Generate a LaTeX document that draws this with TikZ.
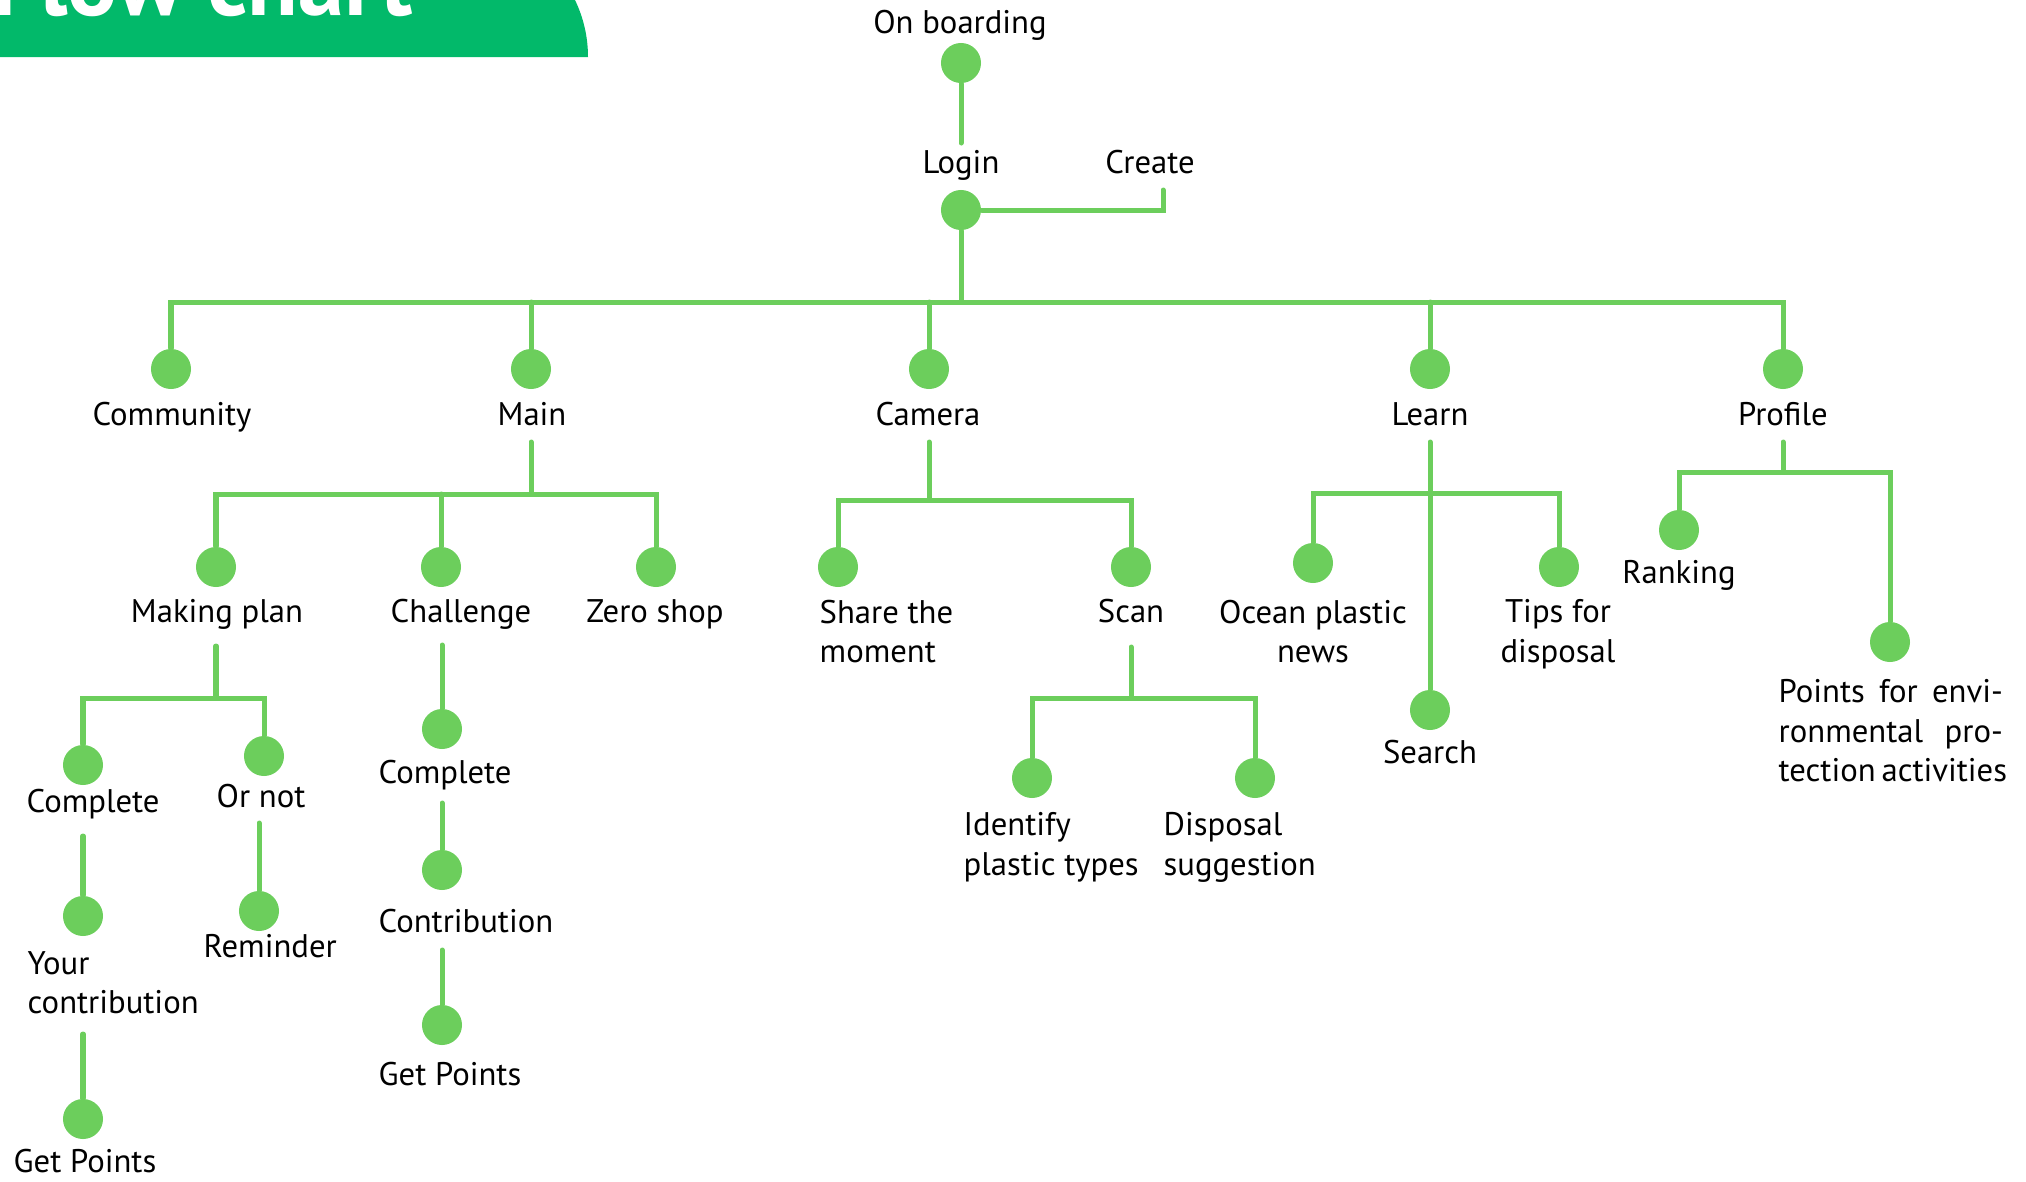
\documentclass[tikz,border=0pt]{standalone}
\usepackage{fontspec}
\setmainfont{PT Sans}
\definecolor{leaf}{HTML}{6CCE5C}
\definecolor{band}{HTML}{02B96A}

\begin{document}
\begin{tikzpicture}[x=0.01cm,y=-0.01cm,
  every node/.style={font=\fontsize{9.3pt}{11.2pt}\selectfont,inner sep=0pt},
  dot/.style={circle,fill=leaf,minimum size=0.4cm},
  lbl/.style={anchor=base},
  lbll/.style={anchor=base west},
  wire/.style={draw=leaf,line width=0.05cm,line cap=round}]

\useasboundingbox (0,0) rectangle (2026,1181);

% bandeau du titre
\fill[band] (-10,57) -- (588,57) arc[start angle=0,end angle=-90,radius=131] -- (-10,-74) -- cycle;
\node[anchor=base west,text=white,font=\fontsize{26.5pt}{26.5pt}\selectfont\bfseries] (title) at (-8,15) {Flow chart};

% points
\node[dot] (cBoard) at (961,63) {};
\node[dot] (cLogin) at (961,210) {};
\node[dot] (cComm) at (171,369) {};
\node[dot] (cMain) at (531,369) {};
\node[dot] (cCam) at (929,369) {};
\node[dot] (cLearn) at (1430,369) {};
\node[dot] (cProf) at (1783,369) {};
\node[dot] (cPlan) at (216,567) {};
\node[dot] (cChal) at (441,567) {};
\node[dot] (cZero) at (656,567) {};
\node[dot] (cShare) at (838,567) {};
\node[dot] (cScan) at (1131,567) {};
\node[dot] (cOcean) at (1313,563) {};
\node[dot] (cTips) at (1559,567) {};
\node[dot] (cSearch) at (1430,710) {};
\node[dot] (cRank) at (1679,530) {};
\node[dot] (cPoints) at (1890,642) {};
\node[dot] (cDone) at (83,765) {};
\node[dot] (cOrNot) at (264,756) {};
\node[dot] (cYours) at (83,916) {};
\node[dot] (cGetA) at (83,1119) {};
\node[dot] (cRemind) at (259,911) {};
\node[dot] (cChalDone) at (442,729) {};
\node[dot] (cContrib) at (442,870) {};
\node[dot] (cGetB) at (442,1025) {};
\node[dot] (cIdent) at (1032,778) {};
\node[dot] (cDisp) at (1255,778) {};

% textes
\node[lbl] (lBoard) at (960,33) {On boarding};
\node[lbl] (lLogin) at (961,173) {Login};
\node[lbl] (lCreate) at (1150,173) {Create};
\node[lbl] (lComm) at (172,425) {Community};
\node[lbl] (lMain) at (532,425) {Main};
\node[lbl] (lCam) at (928,425) {Camera};
\node[lbl] (lLearn) at (1430,425) {Learn};
\node[lbl] (lProf) at (1783,425) {Profile};
\node[lbl] (lPlan) at (217,622) {Making plan};
\node[lbl] (lChal) at (461,622) {Challenge};
\node[lbl] (lZero) at (655,622) {Zero shop};
\node[anchor=north west,align=left] (lShare) at (819,599) {Share the\\moment};
\node[lbl] (lScan) at (1131,622) {Scan};
\node[anchor=north,align=center] (lOcean) at (1313,599) {Ocean plastic\\news};
\node[anchor=north,align=center] (lTips) at (1558,599) {Tips for\\disposal};
\node[lbl] (lSearch) at (1430,763) {Search};
\node[lbl] (lRank) at (1679,583) {Ranking};
\node[anchor=north west,align=left] (lPoints) at (1778,679)
  {\makebox[2.24cm][s]{Points for envi-}\\\makebox[2.24cm][s]{ronmental pro-}\\\makebox[2.24cm][s]{tection activities}};
\node[lbll] (lDone) at (26,812) {Complete};
\node[lbll] (lOrNot) at (216,807) {Or not};
\node[anchor=north west,align=left] (lYours) at (27,951) {Your\\contribution};
\node[lbll] (lGetA) at (13,1172) {Get Points};
\node[lbll] (lRemind) at (203,957) {Reminder};
\node[lbll] (lChalDone) at (378,783) {Complete};
\node[lbll] (lContrib) at (378,932) {Contribution};
\node[lbll] (lGetB) at (378,1085) {Get Points};
\node[anchor=north west,align=left] (lIdent) at (963,812) {Identify\\plastic types};
\node[anchor=north west,align=left] (lDisp) at (1163,812) {Disposal\\suggestion};

% bouts de traits sous les textes
\coordinate (bLogin) at (961,143);
\coordinate (tCreate) at (1163,190);
\coordinate (jTop) at (961,302);
\coordinate (tMain) at (531,442);
\coordinate (jMain) at (531,494);
\coordinate (tCam) at (929,442);
\coordinate (jCam) at (929,500);
\coordinate (tLearn) at (1430,442);
\coordinate (jLearn) at (1430,493);
\coordinate (tProf) at (1783,442);
\coordinate (jProf) at (1783,472);
\coordinate (tPlan) at (216,646);
\coordinate (jPlan) at (216,698);
\coordinate (tScan) at (1131,647);
\coordinate (jScan) at (1131,698);
\coordinate (tDone) at (83,836);
\coordinate (tYours) at (83,1034);
\coordinate (tOrNot) at (259,823);
\coordinate (tChal) at (442,645);
\coordinate (tChalDone) at (442,803);
\coordinate (tContrib) at (442,950);

% traits
\draw[wire] (cBoard)--(bLogin);
\draw[wire] (cLogin)-|(tCreate);
\draw[wire] (cLogin)--(jTop);
\draw[wire] (cComm)|-(jTop)-|(cProf);
\draw[wire] (cMain)--(cMain|-jTop);
\draw[wire] (cCam)--(cCam|-jTop);
\draw[wire] (cLearn)--(cLearn|-jTop);

\draw[wire] (tMain)--(jMain);
\draw[wire] (cPlan)|-(jMain)-|(cZero);
\draw[wire] (cChal)--(cChal|-jMain);

\draw[wire] (tCam)--(jCam);
\draw[wire] (cShare)|-(jCam)-|(cScan);

\draw[wire] (tLearn)--(cSearch);
\draw[wire] (cOcean)|-(jLearn)-|(cTips);

\draw[wire] (tProf)--(jProf);
\draw[wire] (cRank)|-(jProf)-|(cPoints);

\draw[wire] (tPlan)--(jPlan);
\draw[wire] (cDone)|-(jPlan)-|(cOrNot);
\draw[wire] (tDone)--(cYours);
\draw[wire] (tYours)--(cGetA);
\draw[wire] (tOrNot)--(cRemind);

\draw[wire] (tChal)--(cChalDone);
\draw[wire] (tChalDone)--(cContrib);
\draw[wire] (tContrib)--(cGetB);

\draw[wire] (tScan)--(jScan);
\draw[wire] (cIdent)|-(jScan)-|(cDisp);
\end{tikzpicture}
\end{document}
